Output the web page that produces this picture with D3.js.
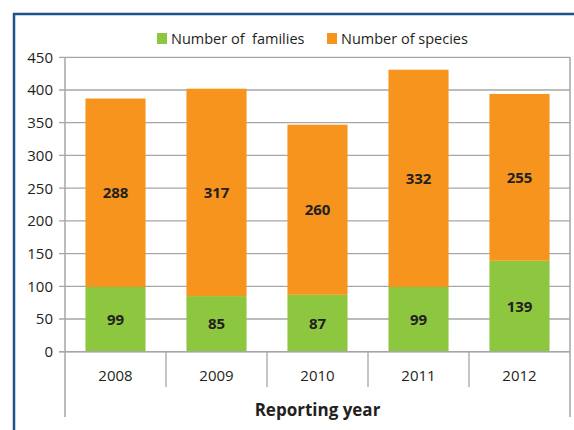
<!DOCTYPE html>
<html><head><meta charset="utf-8">
<script src="https://cdn.jsdelivr.net/npm/d3@7"></script>
<style>body{margin:0;background:#fff}svg{display:block}text{font-family:"Open Sans",sans-serif;fill:#231F20}</style>
</head><body><svg id="c" width="574" height="430"></svg>
<script>
const years = ["2008","2009","2010","2011","2012"];
const families = [99, 85, 87, 99, 139];
const species = [288, 317, 260, 332, 255];
const yTicks = [0,50,100,150,200,250,300,350,400,450];
const seriesNames = ["Number of  families","Number of species"];
const colors = ["#8DC63F","#F7941D"];

const svg = d3.select("#c");
// frame
svg.append("path").attr("d","M14,440 L14,14 L580,14").attr("fill","none").attr("stroke","#1B5488").attr("stroke-width",2.5);

const L=65, R=570, T=57.3, B=351.7;
const x = d3.scaleBand().domain(years).range([L,R]).paddingInner(0.405).paddingOuter(0.2025);
const y = d3.scaleLinear().domain([0,450]).range([B,T]);

// gridlines
svg.append("g").selectAll("line").data(yTicks).join("line")
  .attr("x1",L-6).attr("x2",R).attr("y1",d=>y(d)).attr("y2",d=>y(d))
  .attr("stroke","#A6A6A6").attr("stroke-width",1.3);
// y labels
svg.append("g").selectAll("text").data(yTicks).join("text")
  .attr("x",53).attr("y",d=>y(d)).attr("dy","0.36em").attr("text-anchor","end")
  .attr("font-size",15).text(d=>d);
// plot box lines
svg.append("line").attr("x1",L).attr("x2",L).attr("y1",T).attr("y2",417).attr("stroke","#A6A6A6").attr("stroke-width",1.5);
svg.append("line").attr("x1",R).attr("x2",R).attr("y1",T).attr("y2",417).attr("stroke","#A6A6A6").attr("stroke-width",1.5);
// category separators
const step = x.step();
const seps = years.slice(1).map((d)=>x(d) - (x.step()-x.bandwidth())/2);
svg.append("g").selectAll("line").data(seps).join("line")
  .attr("x1",d=>d).attr("x2",d=>d).attr("y1",B).attr("y2",387).attr("stroke","#A6A6A6").attr("stroke-width",1.3);

const data = years.map((yr,i)=>({yr, f:families[i], s:species[i]}));
// bars
const g = svg.append("g");
g.selectAll("rect.f").data(data).join("rect").attr("class","f")
  .attr("x",d=>x(d.yr)).attr("width",x.bandwidth())
  .attr("y",d=>y(d.f)).attr("height",d=>y(0)-y(d.f)).attr("fill",colors[0]);
g.selectAll("rect.s").data(data).join("rect").attr("class","s")
  .attr("x",d=>x(d.yr)).attr("width",x.bandwidth())
  .attr("y",d=>y(d.f+d.s)).attr("height",d=>y(d.f)-y(d.f+d.s)).attr("fill",colors[1]);
// axis baseline
svg.append("line").attr("x1",L-6).attr("x2",R).attr("y1",B).attr("y2",B).attr("stroke","#A6A6A6").attr("stroke-width",1.5);

// value labels
g.selectAll("text.f").data(data).join("text").attr("class","f")
  .attr("x",d=>x(d.yr)+x.bandwidth()/2).attr("y",d=>(y(0)+y(d.f))/2).attr("dy","0.36em")
  .attr("text-anchor","middle").attr("font-size",15).attr("font-weight","bold").text(d=>d.f);
g.selectAll("text.s").data(data).join("text").attr("class","s")
  .attr("x",d=>x(d.yr)+x.bandwidth()/2).attr("y",d=>(y(d.f)+y(d.f+d.s))/2).attr("dy","0.36em")
  .attr("text-anchor","middle").attr("font-size",15).attr("font-weight","bold").text(d=>d.s);

// x labels
svg.append("g").selectAll("text").data(years).join("text")
  .attr("x",d=>x(d)+x.bandwidth()/2).attr("y",376).attr("dy","0.36em")
  .attr("text-anchor","middle").attr("font-size",15).text(d=>d);
svg.append("text").attr("x",(L+R)/2).attr("y",416).attr("text-anchor","middle")
  .attr("font-size",17).attr("font-weight","bold").text("Reporting year");

// legend
const legX = [157, 327];
seriesNames.forEach((n,i)=>{
  svg.append("rect").attr("x",legX[i]).attr("y",33).attr("width",10).attr("height",11).attr("fill",colors[i]);
  svg.append("text").attr("x",legX[i]+14).attr("y",39).attr("dy","0.36em").attr("font-size",14.5).attr("xml:space","preserve").style("white-space","pre").text(n);
});
</script></body></html>
